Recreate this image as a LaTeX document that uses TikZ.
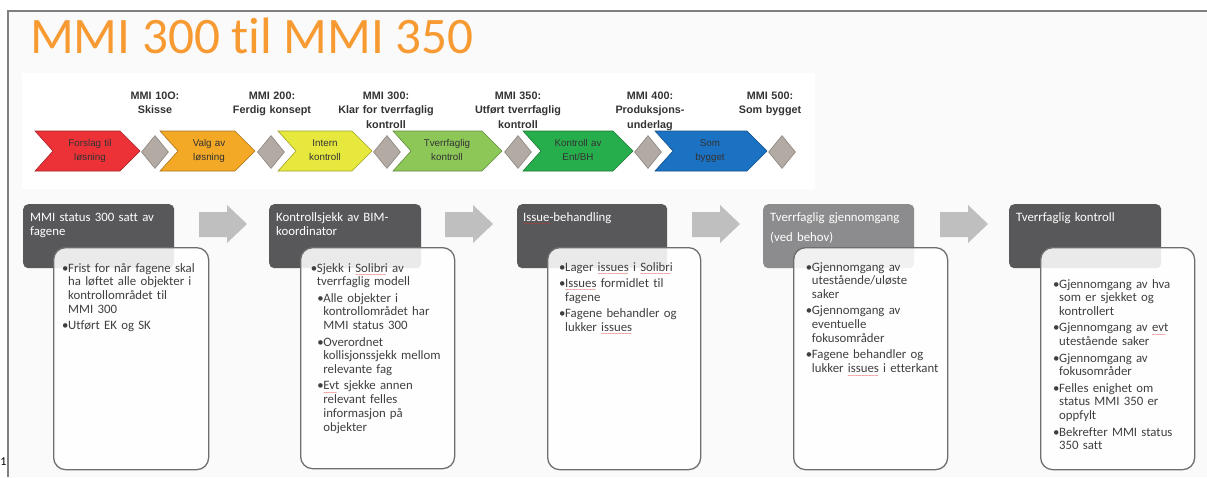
\documentclass[tikz,border=0pt]{standalone}
\usepackage{fontspec}
\setmainfont{Carlito}[Ligatures=NoCommon]
\newfontfamily\lsans{Liberation Sans}
\newfontfamily\djv{DejaVu Sans}
\usetikzlibrary{shapes.geometric,calc}

\definecolor{pagebg}{HTML}{FAFAFA}
\definecolor{framegray}{HTML}{808080}
\definecolor{titleorange}{HTML}{F79A32}
\definecolor{hdrdark}{HTML}{58585A}
\definecolor{hdrlight}{HTML}{8C8C8E}
\definecolor{cardedge}{HTML}{6E6E6E}
\definecolor{bodytext}{HTML}{3F3F3F}
\definecolor{arrowgray}{HTML}{BFBFBF}
\definecolor{spellred}{HTML}{E03030}
\definecolor{labtext}{HTML}{333333}
\definecolor{diamfill}{HTML}{B3ABA3}
\definecolor{diamedge}{HTML}{8A847E}
\definecolor{cred}{HTML}{EC3237}
\definecolor{corange}{HTML}{F3A826}
\definecolor{cyellow}{HTML}{E6E83E}
\definecolor{clgreen}{HTML}{8DC758}
\definecolor{cgreen}{HTML}{27AE4C}
\definecolor{cblue}{HTML}{1B72C3}

% red wavy spell-check underline under a word
\newsavebox\chkbox
\newcommand\wavebit{\hbox{\djv\fontsize{5}{5}\selectfont\kern-0.4pt ∼\kern-0.4pt}}
\newcommand\chk[1]{\sbox\chkbox{#1}%
  \rlap{\lower4.6pt\hbox to\wd\chkbox{\color{spellred}\leaders\wavebit\hfill}}%
  \usebox\chkbox}

% bullet and hanging indent for the list boxes
\newcommand\bl{\makebox[6pt][l]{\textbullet}}
\newcommand\ii{\hspace*{6pt}}
\newcommand\sbl{\hspace*{6.5pt}\bl}
\newcommand\sii{\hspace*{12.5pt}}

% process chevron: left x, tip x, fill, edge
\newcommand\chev[4]{%
  \filldraw[fill=#3, draw=#4, line width=0.6pt]
    (#1,131) -- ({#2-20},131) -- (#2,151) -- ({#2-20},171) -- (#1,171) -- ({#1+18},151) -- cycle;}

% grey block arrow starting at x
\newcommand\blockarrow[1]{%
  \fill[arrowgray] (#1,212) -- ({#1+28},212) -- ({#1+28},205) -- ({#1+48},224)
    -- ({#1+28},243) -- ({#1+28},237) -- (#1,237) -- cycle;}

\tikzset{
  diam/.style={diamond, draw=diamedge, fill=diamfill, line width=0.6pt,
    minimum width=27pt, minimum height=33pt, inner sep=0pt},
  mmilab/.style={anchor=base, inner sep=0pt, text width=120pt, align=center,
    text=labtext, font=\lsans\bfseries\fontsize{10.8}{14.5}\selectfont},
  chevtxt/.style={anchor=base, inner sep=0pt, text width=80pt, align=center,
    text=black!80, font=\lsans\fontsize{9.8}{14}\selectfont},
  hdr/.style={rounded corners=5pt, inner sep=0pt, anchor=north west},
  hdrtxt/.style={anchor=base west, inner sep=0pt, text width=150pt, align=left,
    text=white, font=\fontsize{12.8}{14}\selectfont},
  card/.style={draw=cardedge, line width=1.3pt, fill=white, fill opacity=0.88,
    rounded corners=12pt, inner sep=0pt, anchor=north west},
  bodytxt/.style={anchor=base west, inner sep=0pt, text width=170pt, align=left,
    text=bodytext, font=\fontsize{12.8}{13.8}\selectfont},
}

\begin{document}
\begin{tikzpicture}[x=1pt,y=-1pt]
\useasboundingbox (0,0) rectangle (1207,477);
\fill[white] (0,0) rectangle (1207,477);
\fill[pagebg] (8,11) rectangle (1207,477);
\draw[framegray, line width=2pt] (8,477) -- (8,11) -- (1207,11);
\node[anchor=base west, inner sep=0pt, font=\fontsize{12}{12}\selectfont] (pagenum) at (0.3,465) {1};

% title
\node[anchor=base west, inner sep=0pt, text=titleorange,
  font=\fontsize{51.2}{51.2}\selectfont] (title) at (30,53) {MMI 300 til MMI 350};

% MMI level strip
\fill[white] (22,73) rectangle (815,189);
\chev{35}{140}{cred}{cred!70!black}
\chev{160}{255}{corange}{corange!70!black}
\chev{278}{372}{cyellow}{cyellow!70!black}
\chev{393}{502}{clgreen}{clgreen!70!black}
\chev{523}{633}{cgreen}{cgreen!70!black}
\chev{655}{767}{cblue}{cblue!70!black}

\node[chevtxt] (c1) at (90,146.5) {Forslag til\\løsning};
\node[chevtxt] (c2) at (209,146.5) {Valg av\\løsning};
\node[chevtxt] (c3) at (325,146.5) {Intern\\kontroll};
\node[chevtxt] (c4) at (447,146.5) {Tverrfaglig\\kontroll};
\node[chevtxt] (c5) at (578,146.5) {Kontroll av\\Ent/BH};
\node[chevtxt] (c6) at (710,146.5) {Som\\bygget};

\node[diam] (d1) at (155,152) {};
\node[diam] (d2) at (271,152) {};
\node[diam] (d3) at (387,152) {};
\node[diam] (d4) at (518,152) {};
\node[diam] (d5) at (648,152) {};
\node[diam] (d6) at (782,152) {};

\node[mmilab] (l1) at (155,99) {MMI 10O:\\Skisse};
\node[mmilab] (l2) at (272,99) {MMI 200:\\Ferdig konsept};
\node[mmilab] (l3) at (386,99) {MMI 300:\\Klar for tverrfaglig\\kontroll};
\node[mmilab] (l4) at (518,99) {MMI 350:\\Utført tverrfaglig\\kontroll};
\node[mmilab] (l5) at (650,99) {MMI 400:\\Produksjons-\\underlag};
\node[mmilab] (l6) at (770,99) {MMI 500:\\Som bygget};

% step headers
\node[hdr, fill=hdrdark, minimum width=151pt, minimum height=64pt] (h1) at (23,204) {};
\node[hdr, fill=hdrdark, minimum width=152pt, minimum height=64pt] (h2) at (269,204) {};
\node[hdr, fill=hdrdark, minimum width=150pt, minimum height=64pt] (h3) at (517,204) {};
\node[hdr, fill=hdrlight, minimum width=151pt, minimum height=64pt] (h4) at (763,204) {};
\node[hdr, fill=hdrdark, minimum width=152pt, minimum height=64pt] (h5) at (1009,204) {};

% arrows between steps
\blockarrow{199}
\blockarrow{445}
\blockarrow{692}
\blockarrow{940}

\node[hdrtxt] (ht1) at (30,221) {MMI status 300 satt av\\fagene};
\node[hdrtxt] (ht2) at (276,221) {Kontrollsjekk av BIM-\\koordinator};
\node[hdrtxt] (ht3) at (523,221) {\chk{Issue-}behandling};
\node[hdrtxt] (ht4) at (770,221) {Tverrfaglig gjennomgang\\[6pt](ved behov)};
\node[hdrtxt] (ht5) at (1016,221) {Tverrfaglig kontroll};

% detail cards
\node[card, minimum width=155pt, minimum height=222pt] (b1) at (53,247) {};
\node[card, minimum width=154pt, minimum height=221pt] (b2) at (300,247) {};
\node[card, minimum width=153pt, minimum height=222pt] (b3) at (547,247) {};
\node[card, minimum width=154pt, minimum height=222pt] (b4) at (793,247) {};
\node[card, minimum width=154pt, minimum height=222pt] (b5) at (1040,247) {};

\node[bodytxt] (t1) at (62,272) {\bl Frist for når fagene skal\\\ii ha løftet alle objekter i\\\ii kontrollområdet til\\\ii MMI 300\\[2.5pt]\bl Utført EK og SK};

\node[bodytxt] (t2) at (310.7,272) {\bl Sjekk i \chk{Solibri} av\\\ii tverrfaglig modell\\[2.5pt]\sbl Alle objekter i\\\sii kontrollområdet har\\\sii MMI status 300\\[2.5pt]\sbl Overordnet\\\sii kollisjonssjekk mellom\\\sii relevante fag\\[2.5pt]\sbl \chk{Evt} sjekke annen\\\sii relevant felles\\\sii informasjon på\\\sii objekter};

\node[bodytxt] (t3) at (559,271) {\bl Lager \chk{issues} i \chk{Solibri}\\[2.5pt]\bl \chk{Issues} formidlet til\\\ii fagene\\[2.5pt]\bl Fagene behandler og\\\ii lukker \chk{issues}};

\node[bodytxt] (t4) at (805.7,271) {\bl Gjennomgang av\\\ii utestående/uløste\\\ii saker\\[2.5pt]\bl Gjennomgang av\\\ii eventuelle\\\ii fokusområder\\[2.5pt]\bl Fagene behandler og\\\ii lukker \chk{issues} i etterkant};

\node[bodytxt] (t5) at (1053,288) {\bl Gjennomgang av hva\\\ii som er sjekket og\\\ii kontrollert\\[2.5pt]\bl Gjennomgang av \chk{evt}\\\ii utestående saker\\[2.5pt]\bl Gjennomgang av\\\ii fokusområder\\[2.5pt]\bl Felles enighet om\\\ii status MMI 350 er\\\ii oppfylt\\[2.5pt]\bl Bekrefter MMI status\\\ii 350 satt};
\end{tikzpicture}
\end{document}
